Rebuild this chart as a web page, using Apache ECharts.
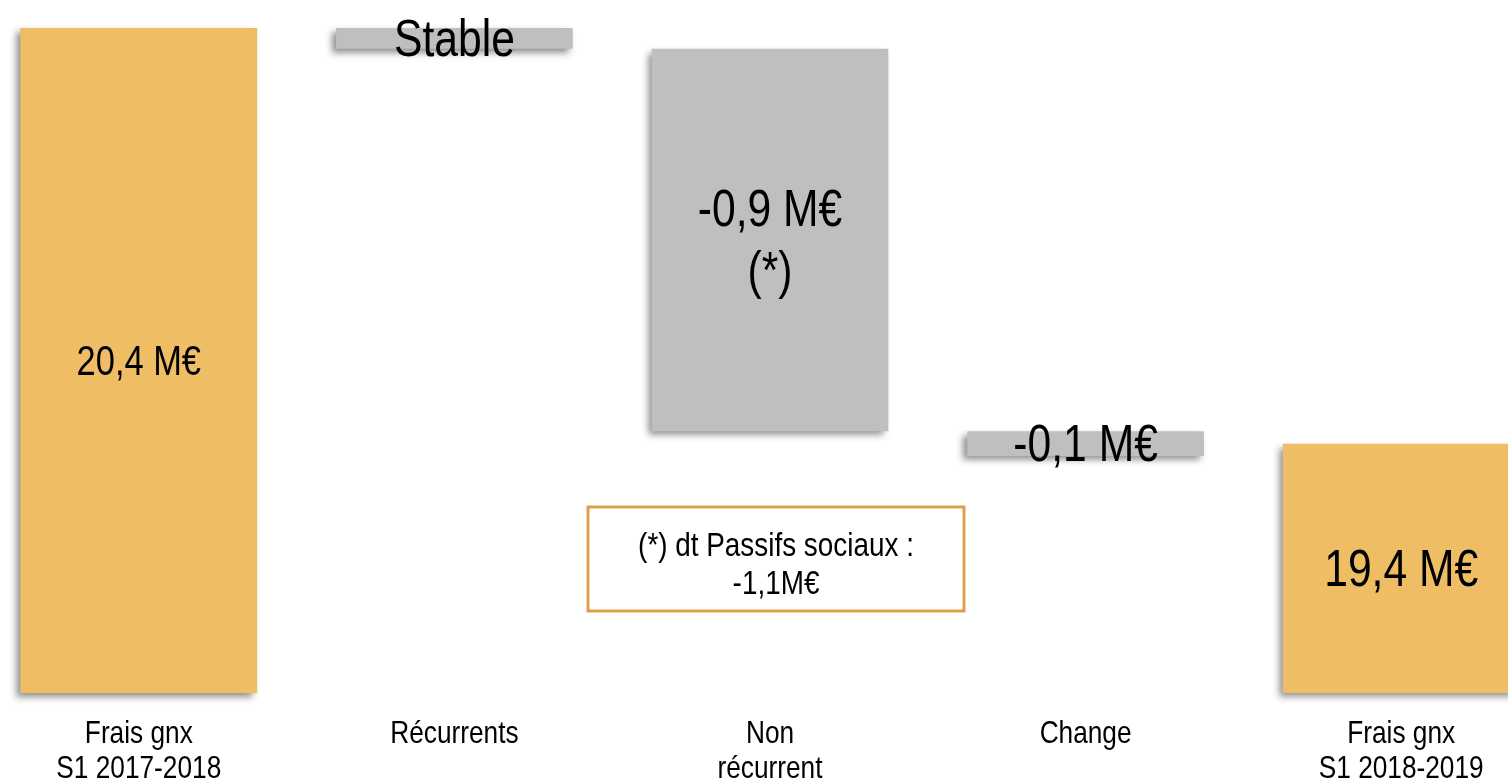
<!DOCTYPE html>
<html>
<head>
<meta charset="utf-8">
<script src="https://cdn.jsdelivr.net/npm/echarts@6/dist/echarts.min.js"></script>
<style>
html,body{margin:0;padding:0;background:#fff;overflow:hidden;width:1508px;height:782px;position:relative;}
#chart{position:absolute;left:-19px;top:0;width:1578px;height:782px;}
</style>
</head>
<body>
<div id="chart"></div>
<script>
// ---- data ----
const categories = ['Frais gnx\nS1 2017-2018', 'Récurrents', 'Non\nrécurrent', 'Change', 'Frais gnx\nS1 2018-2019'];
const kinds = ['total', 'delta', 'delta', 'delta', 'total'];
const barLow = [18.8, 20.35, 19.43, 19.37, 18.8];   // drawn bottom of each bar (M€, original is not to scale)
const barHigh = [20.4, 20.4, 20.35, 19.43, 19.4];   // drawn top of each bar
const valueLabels = ['20,4 M€', 'Stable', '-0,9 M€\n(*)', '-0,1 M€', '19,4 M€'];
const noteLines = ['(*) dt Passifs sociaux :', '-1,1M€'];
const axisMin = 18.8, axisMax = 20.4;

const FONT = "'Liberation Sans', Arial, sans-serif";
const NARROW = 0.82;            // emulate Arial Narrow
const ORANGE = '#EFBE64', GREY = '#BFBFBF';
const OFFX = 19;                // chart div is shifted left by this many px

const chart = echarts.init(document.getElementById('chart'));
const heights = barHigh.map((h, i) => +(h - barLow[i]).toFixed(4));

chart.setOption({
  animation: false,
  grid: { left: 0, right: 0, top: 28, bottom: 89, containLabel: false, outerBoundsMode: 'none' },
  xAxis: {
    type: 'category',
    data: categories,
    axisLine: { show: false },
    axisTick: { show: false },
    axisLabel: { show: false }
  },
  yAxis: {
    type: 'value',
    min: axisMin,
    max: axisMax,
    show: false,
    splitLine: { show: false }
  },
  series: [
    {
      type: 'bar',
      stack: 'w',
      data: barLow,
      barWidth: '75%',
      itemStyle: { color: 'transparent' },
      silent: true
    },
    {
      type: 'bar',
      stack: 'w',
      barWidth: '75%',
      data: heights.map((v, i) => ({
        value: v,
        itemStyle: { color: kinds[i] === 'total' ? ORANGE : GREY }
      })),
      itemStyle: {
        shadowBlur: 7,
        shadowOffsetX: -4,
        shadowOffsetY: 4,
        shadowColor: 'rgba(0,0,0,0.45)'
      }
    }
  ]
});

// text overlays placed through the chart's own scales
function narrowText(x, y, text, size, lh, va) {
  return {
    type: 'text', x: x, y: y, scaleX: NARROW, z: 100,
    style: {
      text: text, fill: '#000', fontFamily: FONT, fontSize: size,
      lineHeight: lh || size, align: 'center', verticalAlign: va || 'middle'
    }
  };
}
const g = [];
categories.forEach((c, i) => {
  const mid = (barLow[i] + barHigh[i]) / 2;
  const p = chart.convertToPixel({ gridIndex: 0 }, [i, mid]);
  const size = i === 0 ? 42 : 52;
  g.push(narrowText(p[0], p[1] + 3, valueLabels[i], size, i === 2 ? 62 : size));
  const base = chart.convertToPixel({ gridIndex: 0 }, [i, axisMin]);
  g.push(narrowText(base[0], base[1] + 24, c, 32, 35, 'top'));
});
g.push({
  type: 'rect', x: 588 + OFFX, y: 507, z: 90,
  shape: { width: 376, height: 104 },
  style: { fill: '#fff', stroke: '#E0A04E', lineWidth: 3 }
});
g.push(narrowText(588 + OFFX + 188, 566, noteLines.join('\n'), 34, 38));
chart.setOption({ graphic: g });
</script>
</body>
</html>
